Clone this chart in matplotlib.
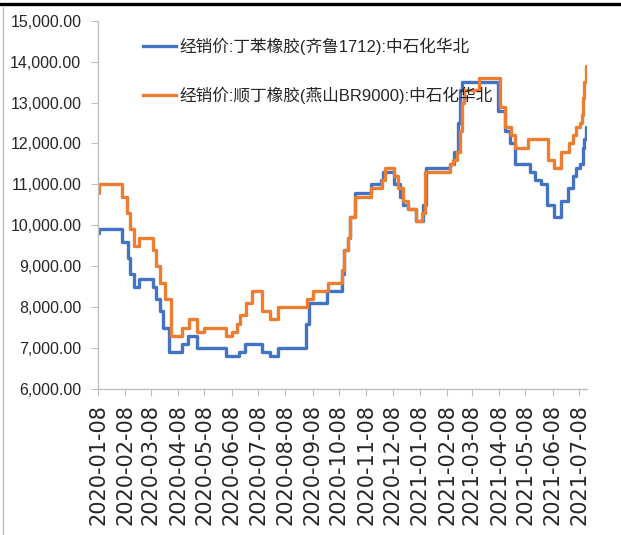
import pandas as pd
import matplotlib
matplotlib.use("Agg")
import matplotlib.pyplot as plt
import matplotlib.dates as mdates
from matplotlib.lines import Line2D
from matplotlib.ticker import FuncFormatter, MultipleLocator

# --- data ---
blue_label = "经销价:丁苯橡胶(齐鲁1712):中石化华北"
orange_label = "经销价:顺丁橡胶(燕山BR9000):中石化华北"

blue_dates = [
    "2020-01-08", "2020-01-09", "2020-02-04", "2020-02-11", "2020-02-13", "2020-02-18",
    "2020-02-24", "2020-03-11", "2020-03-14", "2020-03-18", "2020-03-22", "2020-03-29",
    "2020-04-12", "2020-04-19", "2020-04-29", "2020-06-02", "2020-06-16", "2020-06-23",
    "2020-07-13", "2020-07-22", "2020-07-31", "2020-08-31", "2020-09-04", "2020-09-24",
    "2020-10-11", "2020-10-14", "2020-10-18", "2020-10-21", "2020-10-26", "2020-11-13",
    "2020-11-25", "2020-11-27", "2020-12-10", "2020-12-16", "2020-12-20", "2020-12-26",
    "2021-01-04", "2021-01-11", "2021-01-15", "2021-02-11", "2021-02-16", "2021-02-20",
    "2021-02-23", "2021-02-25", "2021-04-07", "2021-04-15", "2021-04-21", "2021-04-26",
    "2021-05-13", "2021-05-19", "2021-05-26", "2021-06-01", "2021-06-09", "2021-06-18",
    "2021-06-25", "2021-07-01", "2021-07-05", "2021-07-09", "2021-07-12", "2021-07-14",
    "2021-07-16", "2021-07-17",
]
blue_vals = [
    9800, 9900, 9600, 9200, 8800, 8500,
    8700, 8500, 8200, 7900, 7500, 6900,
    7100, 7300, 7000, 6800, 6900, 7100,
    6900, 6800, 7000, 7600, 8100, 8400,
    8800, 9400, 9700, 10200, 10800, 11000,
    11100, 11300, 11000, 10700, 10500, 10400,
    10100, 10500, 11400, 11500, 11800, 12500,
    13300, 13500, 12800, 12300, 12000, 11500,
    11300, 11100, 11000, 10500, 10200, 10600,
    10900, 11200, 11400, 11500, 11900, 12100,
    12400, 12400,
]

orange_dates = [
    "2020-01-08", "2020-01-09", "2020-02-04", "2020-02-10", "2020-02-13", "2020-02-18",
    "2020-02-24", "2020-03-11", "2020-03-14", "2020-03-19", "2020-03-24", "2020-03-31",
    "2020-04-12", "2020-04-20", "2020-04-29", "2020-05-08", "2020-06-02", "2020-06-08",
    "2020-06-14", "2020-06-18", "2020-06-24", "2020-07-01", "2020-07-13", "2020-07-22",
    "2020-07-31", "2020-09-02", "2020-09-08", "2020-09-25", "2020-10-11", "2020-10-14",
    "2020-10-18", "2020-10-21", "2020-10-26", "2020-11-13", "2020-11-26", "2020-11-29",
    "2020-12-10", "2020-12-14", "2020-12-20", "2020-12-26", "2021-01-04", "2021-01-10",
    "2021-01-14", "2021-02-11", "2021-02-15", "2021-02-19", "2021-02-23", "2021-02-25",
    "2021-02-27", "2021-03-16", "2021-04-09", "2021-04-15", "2021-04-22", "2021-04-26",
    "2021-05-11", "2021-06-03", "2021-06-09", "2021-06-18", "2021-06-26", "2021-07-01",
    "2021-07-05", "2021-07-09", "2021-07-11", "2021-07-12", "2021-07-14", "2021-07-16",
    "2021-07-17",
]
orange_vals = [
    10800, 11000, 10700, 10300, 9900, 9500,
    9700, 9400, 9000, 8600, 8200, 7300,
    7500, 7700, 7400, 7500, 7300, 7400,
    7600, 7800, 8100, 8400, 7900, 7700,
    8000, 8200, 8400, 8600, 8900, 9400,
    9700, 10200, 10700, 10900, 11100, 11400,
    11200, 10900, 10600, 10400, 10100, 10300,
    11300, 11500, 11600, 11800, 12300, 13000,
    13300, 13600, 12900, 12400, 12200, 11900,
    12100, 11600, 11400, 11800, 12000, 12200,
    12400, 12500, 12700, 13100, 13500, 13900,
    13900,
]

x_start = "2020-01-08"
x_end = "2021-07-17"

BLUE = "#4472C4"
ORANGE = "#ED7D31"
GRID_GRAY = "#BFBFBF"
TEXT = "#262626"

plt.rcParams["font.family"] = ["Liberation Sans", "Noto Sans CJK SC", "DejaVu Sans"]

fig = plt.figure(figsize=(6.21, 5.35), dpi=100)
ax = fig.add_axes([98 / 621, 1 - 389 / 535, (587 - 98) / 621, (389 - 20.7) / 535])

ax.plot(pd.to_datetime(blue_dates), blue_vals, color=BLUE, lw=2.4,
        drawstyle="steps-post", label=blue_label)
ax.plot(pd.to_datetime(orange_dates), orange_vals, color=ORANGE, lw=2.4,
        drawstyle="steps-post", label=orange_label)

ax.set_xlim(pd.Timestamp(x_start), pd.Timestamp(x_end))
ax.set_ylim(6000, 15000)
ax.yaxis.set_major_locator(MultipleLocator(1000))
ax.yaxis.set_major_formatter(FuncFormatter(lambda v, p: f"{v:,.2f}"))
ax.xaxis.set_major_locator(mdates.MonthLocator(bymonthday=8))
ax.xaxis.set_major_formatter(mdates.DateFormatter("%Y-%m-%d"))

for s in ["top", "right"]:
    ax.spines[s].set_visible(False)
for s in ["left", "bottom"]:
    ax.spines[s].set_color(GRID_GRAY)
    ax.spines[s].set_linewidth(1.0)

ax.tick_params(axis="y", length=5, color=GRID_GRAY, labelsize=11.5,
               labelcolor=TEXT, pad=7)
ax.tick_params(axis="x", length=5, color=GRID_GRAY, labelsize=15,
               labelcolor=TEXT, pad=6)
for lab in ax.get_xticklabels():
    lab.set_rotation(90)
    lab.set_family(["DejaVu Sans"])
    lab.set_fontsize(15)

leg = ax.legend(loc="upper left", bbox_to_anchor=(143 / 621, 1 - 38 / 535),
                bbox_transform=fig.transFigure, frameon=False, fontsize=12,
                handlelength=2.0, handletextpad=0.2, labelspacing=1.9,
                borderpad=0, borderaxespad=0)
for t in leg.get_texts():
    t.set_color(TEXT)

# frame around the picture: thick black bar on top, thin gray line left
fig.add_artist(Line2D([0, 1], [1 - 3.5 / 535] * 2, transform=fig.transFigure,
                      color="black", lw=2.4))
fig.add_artist(Line2D([2.5 / 621] * 2, [0, 1 - 7 / 535], transform=fig.transFigure,
                      color=GRID_GRAY, lw=1.0))

fig.savefig("out.png", dpi=100)
